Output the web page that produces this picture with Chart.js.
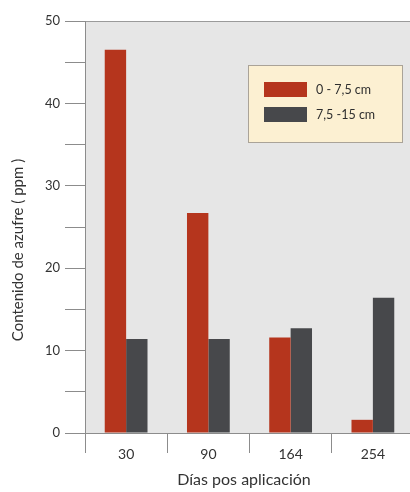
<!DOCTYPE html>
<html>
<head>
<meta charset="utf-8">
<script src="https://cdn.jsdelivr.net/npm/chart.js@4"></script>
<style>
  html, body { margin: 0; padding: 0; background: #fff; overflow: hidden; }
  #wrap { width: 420px; height: 492px; }
</style>
</head>
<body>
<div id="wrap"><canvas id="sulfurChart"></canvas></div>
<script>
// days after application
var dias = ['30', '90', '164', '254'];
var capa1 = [46.5, 26.7, 11.6, 1.6];   // 0 - 7,5 cm
var capa2 = [11.4, 11.4, 12.7, 16.4];  // 7,5 -15 cm
var seriesLabels = ['0 - 7,5 cm', '7,5 -15 cm'];
var yTicksShown = [0, 10, 20, 30, 40, 50];

var fontFam = 'Lato, "Open Sans", sans-serif';

/* grey plot background + top border */
var plotBg = {
    id: 'plotBg',
    beforeDraw: function (chart) {
        var a = chart.chartArea, ctx = chart.ctx;
        ctx.save();
        ctx.fillStyle = '#e6e6e6';
        ctx.fillRect(a.left, a.top, a.right - a.left, a.bottom - a.top);
        ctx.strokeStyle = '#9a9a9a';
        ctx.lineWidth = 1;
        ctx.beginPath();
        ctx.moveTo(a.left - 20, a.top + 0.5);
        ctx.lineTo(a.right, a.top + 0.5);
        ctx.stroke();
        ctx.restore();
    }
};

/* legend box inside the plot + axis titles */
var extras = {
    id: 'extras',
    afterDraw: function (chart) {
        var ctx = chart.ctx, a = chart.chartArea;
        ctx.save();
        var bx = a.left + 163, by = a.top + 44, bw = 154, bh = 77;
        ctx.fillStyle = '#fcf0d2';
        ctx.fillRect(bx, by, bw, bh);
        ctx.strokeStyle = '#aaa398';
        ctx.lineWidth = 1;
        ctx.strokeRect(bx + 0.5, by + 0.5, bw, bh);
        chart.data.datasets.forEach(function (ds, i) {
            var sy = by + 17 + i * 25;
            ctx.fillStyle = ds.backgroundColor;
            ctx.fillRect(bx + 16, sy, 43, 15);
            ctx.fillStyle = '#2e2e2e';
            ctx.font = '12.5px ' + fontFam;
            ctx.textBaseline = 'middle';
            ctx.textAlign = 'left';
            ctx.fillText(ds.label, bx + 68, sy + 8);
        });

        ctx.fillStyle = '#333';
        ctx.font = '16px ' + fontFam;
        ctx.textAlign = 'center';
        ctx.textBaseline = 'middle';
        ctx.fillText('Días pos aplicación', 244, 480);

        ctx.font = '15px ' + fontFam;
        ctx.translate(18, 250);
        ctx.rotate(-Math.PI / 2);
        ctx.fillText('Contenido de azufre ( ppm )', 0, 0);
        ctx.restore();
    }
};

var chart = new Chart(document.querySelector('#sulfurChart'), {
    type: 'bar',
    data: {
        labels: dias,
        datasets: [{
            label: seriesLabels[0],
            data: capa1,
            backgroundColor: '#b5351d',
            categoryPercentage: 0.52,
            barPercentage: 1.0
        }, {
            label: seriesLabels[1],
            data: capa2,
            backgroundColor: '#47484b',
            categoryPercentage: 0.52,
            barPercentage: 1.0
        }]
    },
    options: {
        responsive: true,
        maintainAspectRatio: false,
        animation: false,
        layout: { padding: { top: 21, right: 6, left: 0, bottom: 0 } },
        plugins: {
            legend: { display: false },
            tooltip: { enabled: false }
        },
        scales: {
            x: {
                grid: {
                    offset: true,
                    drawOnChartArea: false,
                    tickLength: 20,
                    color: '#8c8c8c'
                },
                border: { color: '#8c8c8c' },
                ticks: {
                    color: '#333',
                    font: { family: fontFam, size: 14 },
                    padding: -7,
                    maxRotation: 0
                },
                afterFit: function (scale) { scale.height = 59; }
            },
            y: {
                min: 0,
                max: 50,
                grid: {
                    drawOnChartArea: false,
                    tickLength: 20,
                    color: '#8c8c8c'
                },
                border: { color: '#8c8c8c' },
                ticks: {
                    stepSize: 5,
                    color: '#333',
                    font: { family: fontFam, size: 13 },
                    padding: 5,
                    callback: function (v) {
                        return yTicksShown.indexOf(v) >= 0 ? v : '';
                    }
                },
                afterFit: function (scale) { scale.width = 85; }
            }
        }
    },
    plugins: [plotBg, extras]
});
</script>
</body>
</html>
